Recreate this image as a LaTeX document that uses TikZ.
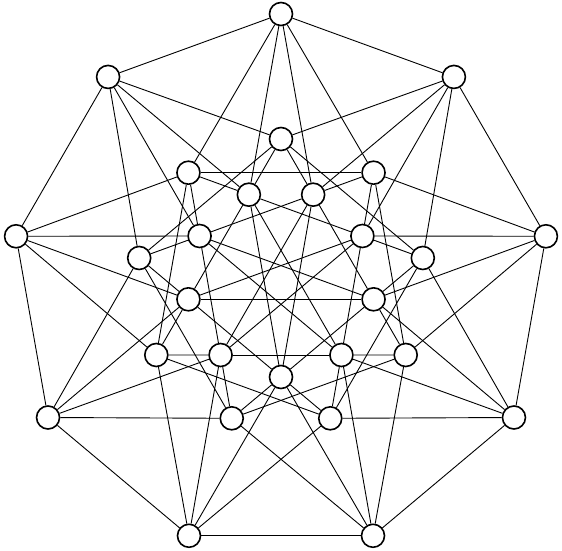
\documentclass[tikz,border=0pt]{standalone}
\usetikzlibrary{backgrounds}
\begin{document}
\begin{tikzpicture}[x=1pt,y=1pt,
  vtx/.style={circle,draw=black,fill=white,line width=1.6pt,minimum size=23pt,inner sep=0pt},
  edge/.style={draw=black,line width=0.9pt}]
\useasboundingbox (0,0) rectangle (562,551);
\foreach \k in {0,...,8}{
  \node[vtx] (O\k) at ({281+269*cos(90+40*\k)},{268+269*sin(90+40*\k)}) {};
  \node[vtx] (M\k) at ({281+144*cos(90+40*\k)},{268+144*sin(90+40*\k)}) {};
  \node[vtx] (I\k) at ({281+94*cos(110+40*\k)},{268+94*sin(110+40*\k)}) {};
}
\begin{pgfonlayer}{background}
\foreach \k in {0,...,8}{
  \pgfmathtruncatemacro\a{mod(\k+1,9)}
  \pgfmathtruncatemacro\b{mod(\k+8,9)}
  \pgfmathtruncatemacro\c{mod(\k+2,9)}
  \pgfmathtruncatemacro\d{mod(\k+4,9)}
  \draw[edge] (O\k) -- (O\a);
  \draw[edge] (O\k) -- (M\a);
  \draw[edge] (O\k) -- (M\b);
  \draw[edge] (O\k) -- (I\k);
  \draw[edge] (O\k) -- (I\b);
  \draw[edge] (M\k) -- (M\c);
  \draw[edge] (M\k) -- (I\k);
  \draw[edge] (M\k) -- (I\b);
  \draw[edge] (I\k) -- (I\c);
  \draw[edge] (I\k) -- (I\d);
}
\end{pgfonlayer}
\end{tikzpicture}
\end{document}
